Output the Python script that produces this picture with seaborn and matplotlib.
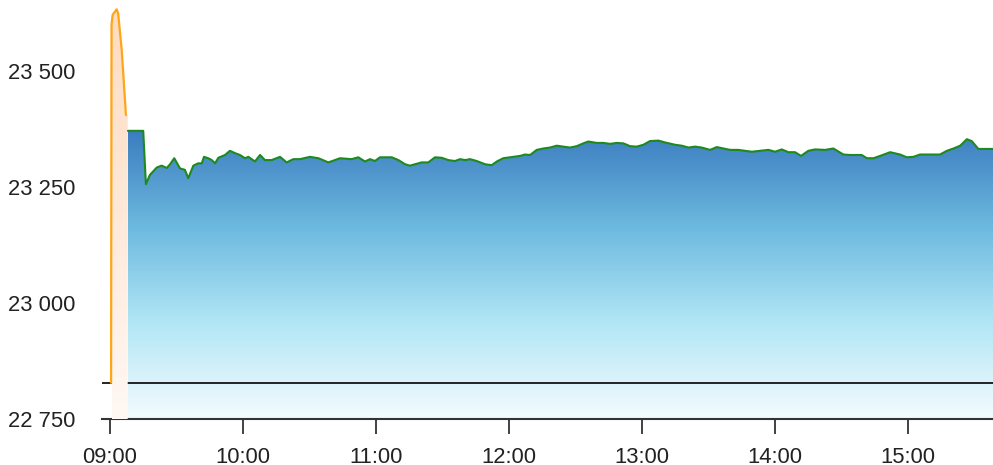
import numpy as np
import matplotlib
matplotlib.use("Agg")
import matplotlib.pyplot as plt
from matplotlib.colors import LinearSegmentedColormap
from matplotlib.ticker import FuncFormatter
import seaborn as sns

sns.set_theme(style="white")
plt.rcParams['font.family'] = ['Liberation Sans', 'DejaVu Sans']

# x values are minutes after 09:00
pre_minutes = [0.5, 0.7, 1.2, 3.0, 3.7, 5.3, 7.2]
pre_values = [22828, 23600, 23621, 23633, 23624, 23545, 23405]

session_minutes = [
    8.1, 15.0, 16.2, 18.0, 21.1, 23.3, 25.6, 27.1, 29.0, 31.6, 33.8, 35.3, 37.6, 39.8,
    41.4, 42.4, 44.3, 45.9, 47.4, 48.9, 51.9, 54.1, 56.4, 58.6, 60.9, 62.4, 65.4, 67.7,
    69.9, 72.9, 76.7, 79.7, 82.7, 85.7, 90.2, 94.0, 98.5, 103.8, 109.0, 112.0, 115.0,
    117.3, 119.5, 121.8, 127.1, 130.1, 133.1, 135.3, 137.6, 140.6, 143.6, 146.6, 149.6,
    152.6, 155.6, 157.9, 160.2, 162.4, 165.4, 169.2, 172.2, 174.5, 177.4, 181.9, 185.0,
    187.2, 189.5, 192.5, 195.5, 198.5, 201.5, 204.5, 207.5, 210.5, 213.5, 215.7, 219.6,
    222.5, 225.6, 228.6, 231.6, 234.6, 237.6, 240.6, 243.6, 247.4, 250.4, 254.9, 257.9,
    260.9, 263.9, 266.9, 270.7, 273.7, 276.7, 279.7, 283.4, 286.5, 289.5, 293.2, 297.0,
    300.0, 303.0, 306.0, 309.0, 311.7, 315.0, 318.0, 322.6, 326.3, 330.8, 333.8, 339.1,
    341.4, 344.4, 347.4, 351.9, 356.4, 359.4, 362.4, 365.4, 369.9, 374.4, 377.5, 380.5,
    383.5, 386.5, 388.7, 391.7, 398.3,
]
session_values = [
    23371, 23371, 23256, 23276, 23292, 23296, 23291, 23299, 23312, 23290, 23287, 23269, 23296, 23301,
    23301, 23315, 23312, 23308, 23301, 23313, 23319, 23328, 23323, 23319, 23312, 23315, 23305, 23319,
    23308, 23308, 23315, 23303, 23310, 23310, 23315, 23312, 23303, 23312, 23310, 23314, 23305,
    23310, 23306, 23314, 23314, 23308, 23299, 23296, 23299, 23303, 23303, 23314, 23313,
    23308, 23306, 23310, 23308, 23310, 23306, 23299, 23297, 23305, 23312, 23315, 23317,
    23320, 23319, 23330, 23333, 23335, 23339, 23337, 23335, 23338, 23344, 23348, 23345,
    23345, 23343, 23345, 23344, 23338, 23337, 23341, 23349, 23350, 23346, 23341, 23339,
    23335, 23337, 23335, 23330, 23336, 23333, 23330, 23330, 23328, 23326, 23328, 23330,
    23326, 23331, 23325, 23325, 23317, 23328, 23331, 23330, 23333, 23320, 23319, 23319,
    23312, 23312, 23317, 23325, 23320, 23314, 23315, 23320, 23320, 23320, 23328, 23333,
    23339, 23353, 23349, 23332, 23332,
]

prev_close = 22828
y_ticks = [22750, 23000, 23250, 23500]
x_ticks = [0, 60, 120, 180, 240, 300, 360]
x_tick_labels = ["09:00", "10:00", "11:00", "12:00", "13:00", "14:00", "15:00"]


def gradient_fill(ax, x, y, base, colors, zorder):
    poly = ax.fill_between(x, y, base, color='none', lw=0)
    cmap = LinearSegmentedColormap.from_list('grad', colors)
    grad = np.linspace(1, 0, 256).reshape(-1, 1)
    im = ax.imshow(grad, cmap=cmap, aspect='auto', origin='upper',
                   extent=[min(x), max(x), base, max(y)], zorder=zorder)
    im.set_clip_path(poly.get_paths()[0], transform=ax.transData)


fig = plt.figure(figsize=(9.93, 4.65), dpi=100)
ax = fig.add_axes([102 / 993, 1 - 419 / 465, 1 - 102 / 993, 419 / 465])

# blue area for the main session
gradient_fill(ax, session_minutes, session_values, 22750,
              ['#f4fbfe', '#b2e6f5', '#6cb9df', '#3b7cbf'], zorder=1)
ax.axhline(prev_close, color='black', lw=1.2, zorder=2)

# peach area for the pre-open auction
pre_fill_x = [pre_minutes[0] + 0.4] + pre_minutes[1:] + [8.0]
pre_fill_y = pre_values + [pre_values[-1]]
gradient_fill(ax, pre_fill_x, pre_fill_y, 22750,
              ['#fff8f4', '#fee9d9', '#fddcc0'], zorder=3)

sns.lineplot(x=pre_minutes, y=pre_values, color='#ffa516', lw=1.6,
             estimator=None, ax=ax, zorder=4)
sns.lineplot(x=session_minutes, y=session_values, color='#1e8a1e', lw=1.5,
             estimator=None, ax=ax, zorder=5)

ax.set_xlim(-3.6, 398.3)
ax.set_ylim(22750, 23653)
ax.set_xticks(x_ticks)
ax.set_xticklabels(x_tick_labels)
ax.set_yticks(y_ticks)
ax.yaxis.set_major_formatter(FuncFormatter(lambda v, p: f"{v:,.0f}".replace(",", " ")))

for side in ['top', 'right', 'left']:
    ax.spines[side].set_visible(False)
ax.spines['bottom'].set_color('#333333')
ax.spines['bottom'].set_linewidth(1.5)

ax.tick_params(axis='x', bottom=True, length=11, width=1.3, color='#333333',
               pad=9, labelsize=15.8, labelcolor='#222222')
ax.tick_params(axis='y', left=False, length=0, pad=19, labelsize=15.8, labelcolor='#222222')
ax.set_xlabel('')
ax.set_ylabel('')
ax.grid(False)

fig.savefig('out.png', dpi=100)
